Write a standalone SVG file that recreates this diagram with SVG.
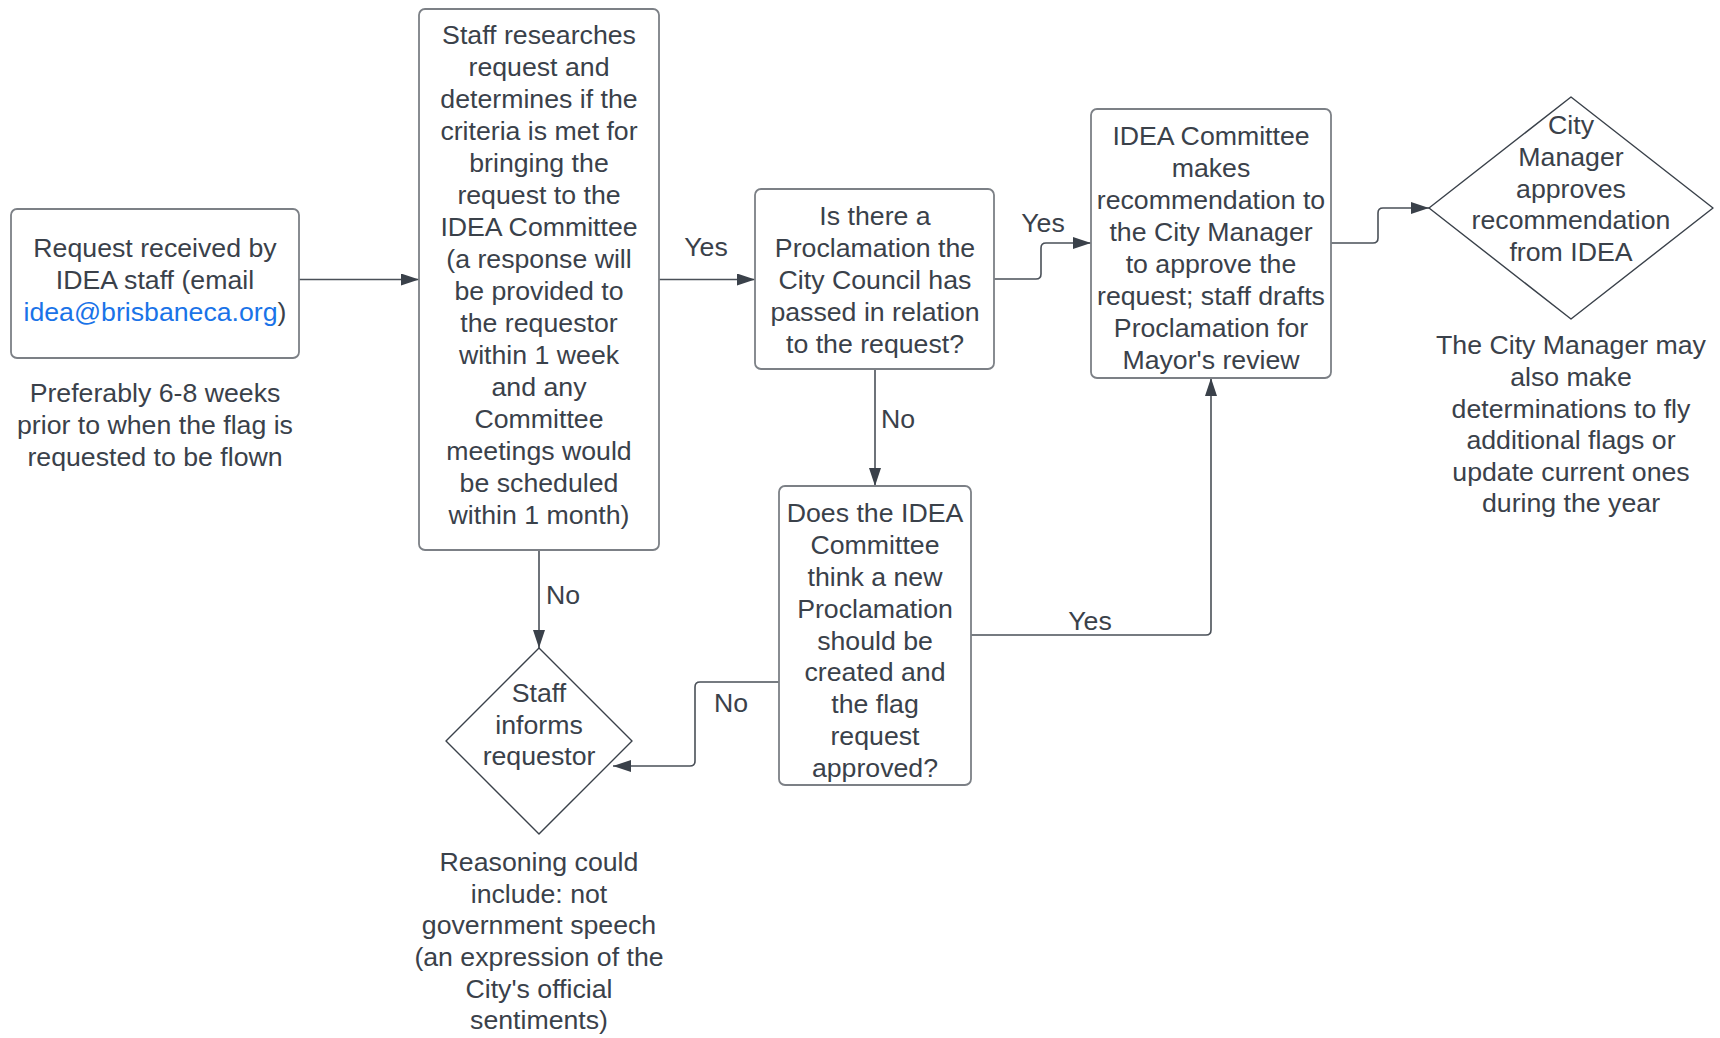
<svg xmlns="http://www.w3.org/2000/svg" width="1720" height="1038" viewBox="0 0 1720 1038">
<style>
text{font-family:"Liberation Sans",Arial,sans-serif;font-size:26.7px;fill:#3a414a;text-anchor:middle}
.box{fill:#ffffff;stroke:#7c8086;stroke-width:1.8}
.dia{fill:#ffffff;stroke:#3a414a;stroke-width:1.4;stroke-linejoin:round}
.con{fill:none;stroke:#4a5058;stroke-width:1.6}
.link{fill:#1a73e8}
</style>
<defs>
<marker id="arr" viewBox="0 0 18 12" refX="18" refY="6" markerWidth="18" markerHeight="12" markerUnits="userSpaceOnUse" orient="auto">
<path d="M0,0 L18,6 L0,12 z" fill="#3a414a"/>
</marker>
</defs>
<rect width="1720" height="1038" fill="#ffffff"/>
<g id="connectors">
<path class="con" d="M299,279.5 H419" marker-end="url(#arr)"/>
<path class="con" d="M659,279.5 H755" marker-end="url(#arr)"/>
<path class="con" d="M994,279 H1036 Q1041,279 1041,274 V248 Q1041,243 1046,243 H1091" marker-end="url(#arr)"/>
<path class="con" d="M1331,243 H1373 Q1378,243 1378,238 V213 Q1378,208 1383,208 H1429" marker-end="url(#arr)"/>
<path class="con" d="M875,369 V486" marker-end="url(#arr)"/>
<path class="con" d="M971,635 H1206 Q1211,635 1211,630 V378" marker-end="url(#arr)"/>
<path class="con" d="M539,550 V648" marker-end="url(#arr)"/>
<path class="con" d="M779,682 H700 Q695,682 695,687 V761 Q695,766 690,766 H613" marker-end="url(#arr)"/>
<text x="706" y="256">Yes</text>
<text x="1043" y="232">Yes</text>
<text x="1090" y="630">Yes</text>
<text x="898" y="428">No</text>
<text x="563" y="604">No</text>
<text x="731" y="712">No</text>
</g>
<g id="request">
<rect class="box" x="11" y="209" width="288" height="149" rx="6"/>
<text x="155" y="257">Request received by</text>
<text x="155" y="289">IDEA staff (email</text>
<text x="155" y="321"><tspan class="link">idea@brisbaneca.org</tspan>)</text>
</g>
<g id="note-weeks">
<text x="155" y="402">Preferably 6-8 weeks</text>
<text x="155" y="434">prior to when the flag is</text>
<text x="155" y="466">requested to be flown</text>
</g>
<g id="research">
<rect class="box" x="419" y="9" width="240" height="541" rx="6"/>
<text x="539" y="44">Staff researches</text>
<text x="539" y="76">request and</text>
<text x="539" y="108">determines if the</text>
<text x="539" y="140">criteria is met for</text>
<text x="539" y="172">bringing the</text>
<text x="539" y="204">request to the</text>
<text x="539" y="236">IDEA Committee</text>
<text x="539" y="268">(a response will</text>
<text x="539" y="300">be provided to</text>
<text x="539" y="332">the requestor</text>
<text x="539" y="364">within 1 week</text>
<text x="539" y="396">and any</text>
<text x="539" y="428">Committee</text>
<text x="539" y="460">meetings would</text>
<text x="539" y="492">be scheduled</text>
<text x="539" y="524">within 1 month)</text>
</g>
<g id="proclamation-check">
<rect class="box" x="755" y="189" width="239" height="180" rx="6"/>
<text x="875" y="225">Is there a</text>
<text x="875" y="257">Proclamation the</text>
<text x="875" y="289">City Council has</text>
<text x="875" y="321">passed in relation</text>
<text x="875" y="353">to the request?</text>
</g>
<g id="recommendation">
<rect class="box" x="1091" y="109" width="240" height="269" rx="6"/>
<text x="1211" y="145">IDEA Committee</text>
<text x="1211" y="177">makes</text>
<text x="1211" y="209">recommendation to</text>
<text x="1211" y="241">the City Manager</text>
<text x="1211" y="273">to approve the</text>
<text x="1211" y="305">request; staff drafts</text>
<text x="1211" y="337">Proclamation for</text>
<text x="1211" y="369">Mayor's review</text>
</g>
<g id="manager-approves">
<polygon class="dia" points="1571,97 1713,208 1571,319 1429,208"/>
<text x="1571" y="134">City</text>
<text x="1571" y="166">Manager</text>
<text x="1571" y="198">approves</text>
<text x="1571" y="229">recommendation</text>
<text x="1571" y="261">from IDEA</text>
</g>
<g id="note-manager">
<text x="1571" y="354">The City Manager may</text>
<text x="1571" y="386">also make</text>
<text x="1571" y="418">determinations to fly</text>
<text x="1571" y="449">additional flags or</text>
<text x="1571" y="481">update current ones</text>
<text x="1571" y="512">during the year</text>
</g>
<g id="committee-decision">
<rect class="box" x="779" y="486" width="192" height="299" rx="6"/>
<text x="875" y="522">Does the IDEA</text>
<text x="875" y="554">Committee</text>
<text x="875" y="586">think a new</text>
<text x="875" y="618">Proclamation</text>
<text x="875" y="650">should be</text>
<text x="875" y="681">created and</text>
<text x="875" y="713">the flag</text>
<text x="875" y="745">request</text>
<text x="875" y="777">approved?</text>
</g>
<g id="staff-informs">
<polygon class="dia" points="539,648 632,741 539,834 446,741"/>
<text x="539" y="702">Staff</text>
<text x="539" y="734">informs</text>
<text x="539" y="765">requestor</text>
</g>
<g id="note-reasoning">
<text x="539" y="871">Reasoning could</text>
<text x="539" y="903">include: not</text>
<text x="539" y="934">government speech</text>
<text x="539" y="966">(an expression of the</text>
<text x="539" y="998">City's official</text>
<text x="539" y="1029">sentiments)</text>
</g>
</svg>
